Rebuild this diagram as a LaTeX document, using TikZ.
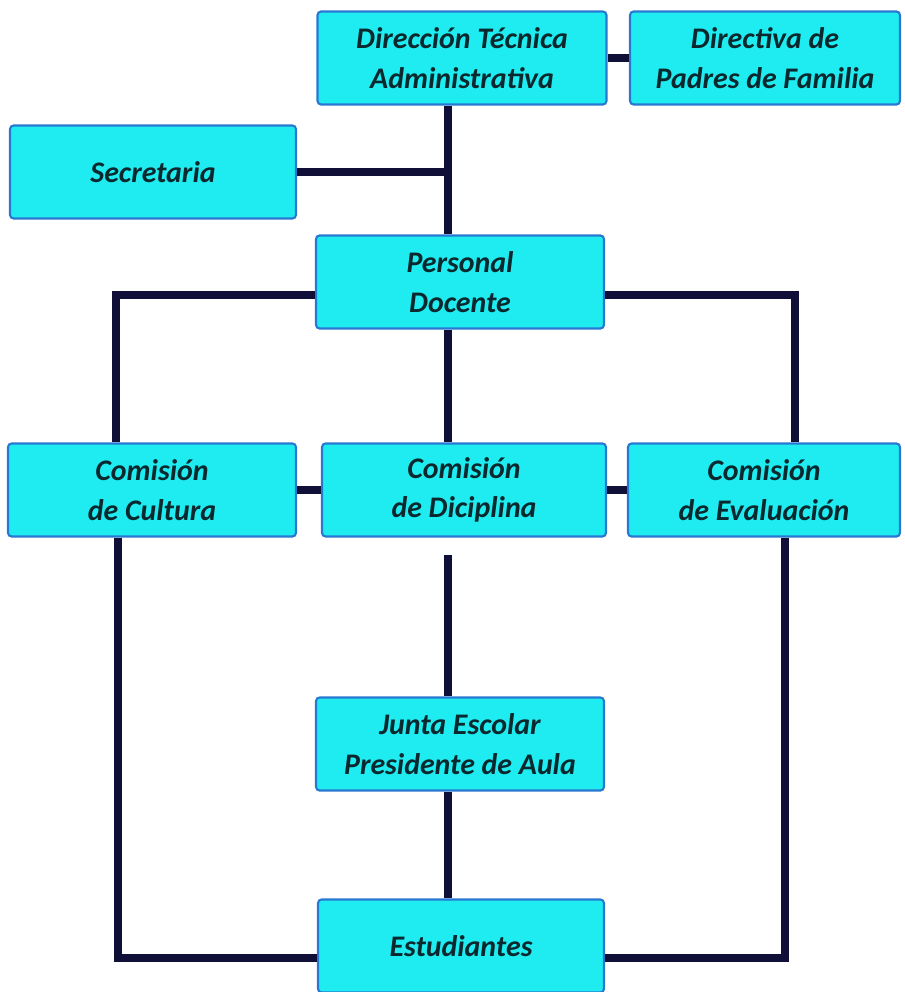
\documentclass[tikz,border=0pt]{standalone}
\usepackage{fontspec}
\setmainfont{Carlito}
\definecolor{boxfill}{RGB}{30,236,240}
\definecolor{boxline}{RGB}{40,120,210}
\definecolor{linkcol}{RGB}{15,15,55}
\definecolor{textcol}{RGB}{10,40,45}
\begin{document}
\begin{tikzpicture}[x=0.02cm, y=-0.02cm,
		box/.style={draw=boxline, line width=1.2pt, fill=boxfill, rounded corners=2pt, minimum height=1.86cm, align=center, text=textcol, font=\fontsize{17}{22.5}\selectfont\bfseries\itshape},
		link/.style={draw=linkcol, line width=4pt}]
		\useasboundingbox (0,0) rectangle (905,992);
		\node[box, minimum width=5.78cm] (Direccion) at (462,58) {Dirección Técnica\\Administrativa};
		\node[box, minimum width=5.40cm] (Directiva) at (765,58) {Directiva de\\Padres de Familia};
		\node[box, minimum width=5.72cm] (Secretaria) at (153,172) {Secretaria};
		\node[box, minimum width=5.76cm] (Personal) at (460,282) {Personal\\Docente};
		\node[box, minimum width=5.76cm] (Cultura) at (152,490) {Comisión\\de Cultura};
		\node[box, minimum width=5.68cm] (Diciplina) at (464,490) {Comisión\\de Diciplina};
		\node[box, minimum width=5.44cm] (Evaluacion) at (764,490) {Comisión\\de Evaluación};
		\node[box, minimum width=5.76cm] (Junta) at (460,744) {Junta Escolar\\Presidente de Aula};
		\node[box, minimum width=5.72cm] (Estudiantes) at (461,946) {Estudiantes};
		% Trunk and side columns
		\coordinate (trunk) at (448,0);
		\coordinate (leftTop) at (116,0);
		\coordinate (rightTop) at (795,0);
		\coordinate (leftBot) at (118,0);
		\coordinate (rightBot) at (785,0);
		% Links
		\draw[link] (Direccion.east) -- (Directiva.west);
		\draw[link] (Direccion.south -| trunk) -- (Personal.north -| trunk);
		\draw[link] (Secretaria.east) -- (Secretaria.east -| trunk);
		\draw[link] ([yshift=-0.26cm]Personal.west) -| (Cultura.north -| leftTop);
		\draw[link] ([yshift=-0.26cm]Personal.east) -| (Evaluacion.north -| rightTop);
		\draw[link] (Personal.south -| trunk) -- (Diciplina.north -| trunk);
		\draw[link] (Cultura.east) -- (Diciplina.west);
		\draw[link] (Diciplina.east) -- (Evaluacion.west);
		\draw[link, shorten <=0.34cm] (Diciplina.south -| trunk) -- (Junta.north -| trunk);
		\draw[link] (Junta.south -| trunk) -- (Estudiantes.north -| trunk);
		\draw[link] (Cultura.south -| leftBot) |- ([yshift=-0.24cm]Estudiantes.west);
		\draw[link] (Evaluacion.south -| rightBot) |- ([yshift=-0.24cm]Estudiantes.east);
	\end{tikzpicture}
\end{document}
